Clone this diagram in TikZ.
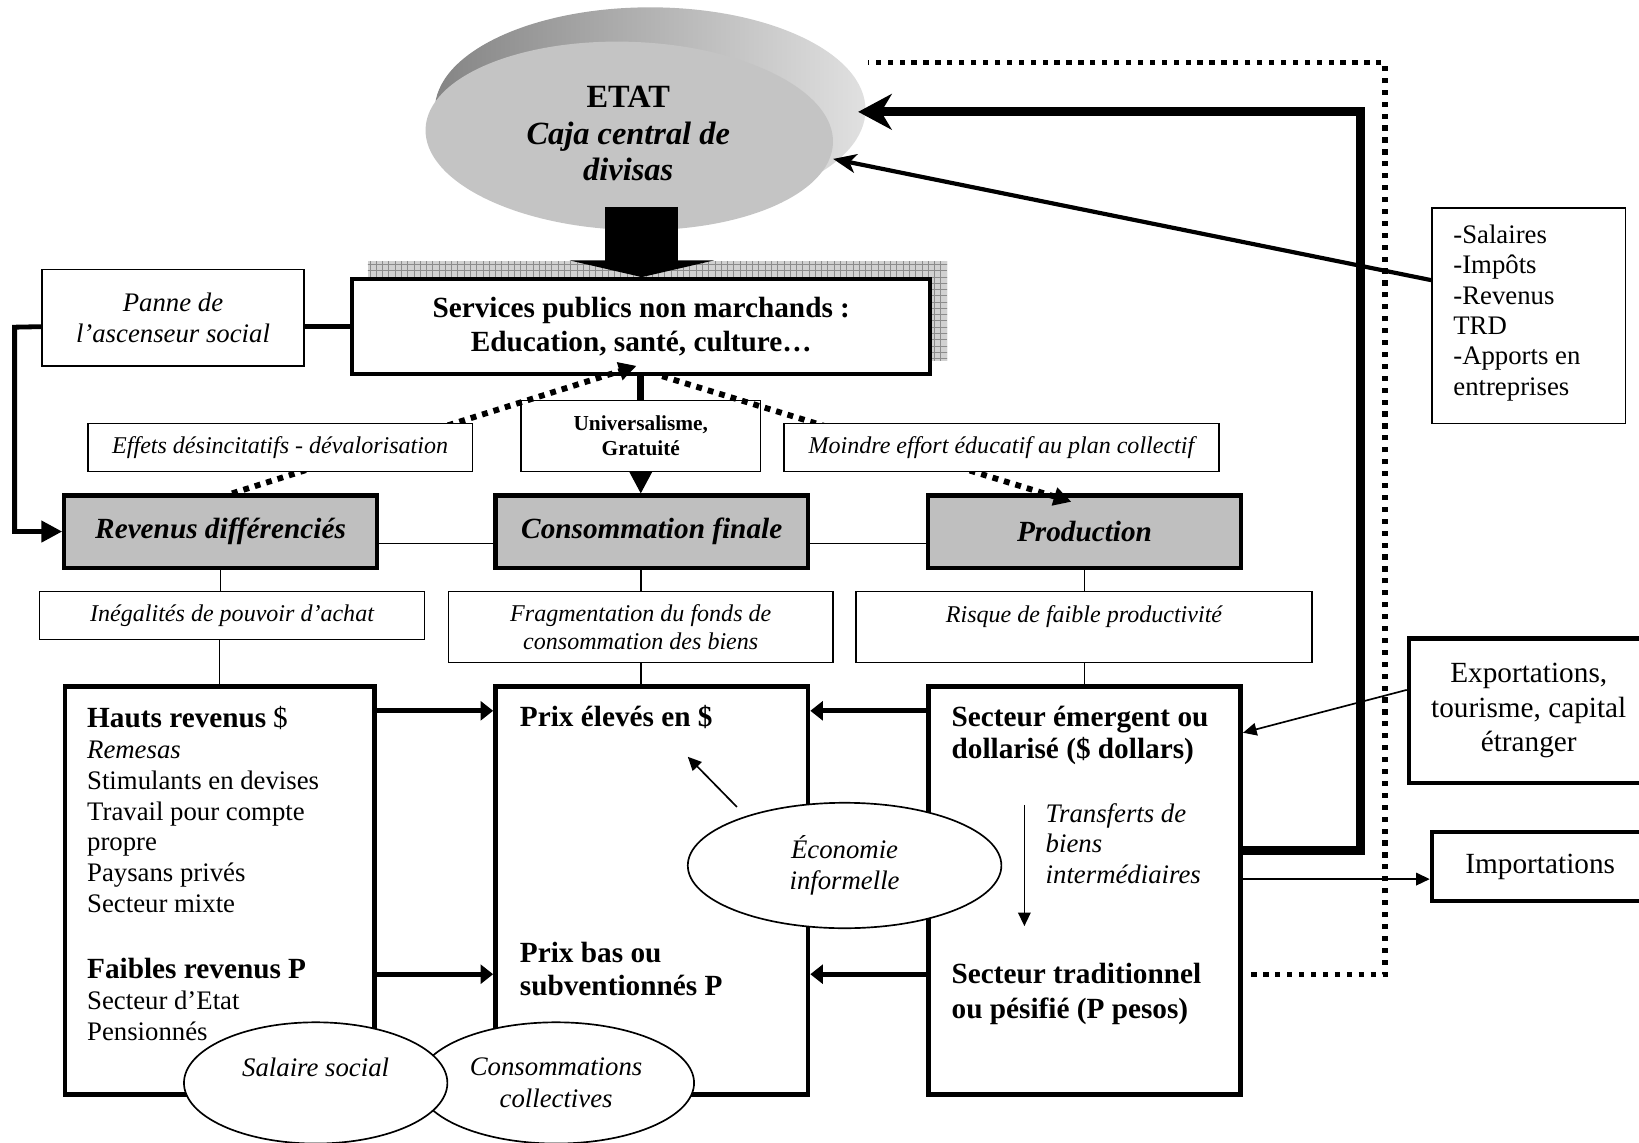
\documentclass[tikz,border=0pt]{standalone}
\usepackage{fontspec}
\setmainfont{Liberation Serif}
\usetikzlibrary{arrows.meta,shapes.geometric,patterns}

\begin{document}
\begin{tikzpicture}[x=0.5pt, y=-0.5pt,
    textbox/.style={draw, line width=0.7pt, fill=white, inner sep=0pt, align=center,
        font=\fontsize{11.5}{13}\selectfont\itshape},
    headbox/.style={draw, line width=2pt, fill=black!25, inner sep=0pt,
        minimum width=149.5pt, minimum height=34.5pt,
        font=\fontsize{14}{16}\selectfont\bfseries\itshape},
    bigbox/.style={draw, line width=2.2pt, inner sep=0pt,
        minimum width=149.5pt, minimum height=195pt},
    oval/.style={ellipse, draw, line width=0.8pt, fill=white, inner sep=0pt, align=center,
        font=\fontsize{12.8}{15}\selectfont\itshape},
    listtext/.style={inner sep=0pt, align=left, anchor=base west,
        font=\fontsize{12.8}{14.75}\selectfont},
    listhead/.style={inner sep=0pt, align=left, anchor=base west,
        font=\fontsize{14}{15.5}\selectfont\bfseries},
    thinline/.style={line width=0.75pt},
    thinarrow/.style={line width=0.8pt, -{Triangle[length=6.5pt, width=6pt]}},
    flow/.style={line width=2.4pt, -{Triangle[length=6pt, width=9pt]}},
    effect/.style={line width=2.8pt, dash pattern=on 2.8pt off 2.9pt,
        -{Triangle[length=8.5pt, width=8.5pt]}},
    heavy/.style={line width=4.3pt, line join=miter,
        -{Stealth[length=16pt, width=17pt, inset=5pt]}}
]
\useasboundingbox (0,0) rectangle (1568,1093);
\clip (0,0) rectangle (1568,1093);

% Etat disk
\shade[left color=black!48, right color=black!12] (622,105) ellipse [x radius=103pt, y radius=49pt];
\fill[black!23, rotate around={-2:(602,130)}] (602,130) ellipse [x radius=97.5pt, y radius=45pt];
\node[align=center, inner sep=0pt, font=\fontsize{15.5}{17.5}\selectfont\bfseries] (etat) at (601,128)
    {ETAT\\{\itshape Caja central de}\\{\itshape divisas}};

% Services publics
\fill[black!18] (352,250) rectangle (906,345);
\fill[pattern=grid, pattern color=black!45] (352,250) rectangle (906,345);
\node[draw, line width=1.9pt, fill=white, minimum width=276.5pt, minimum height=45.5pt,
    inner sep=0pt, align=center, font=\fontsize{14}{16}\selectfont\bfseries] (services) at (613.5,312.5)
    {Services publics non marchands :\\Education, santé, culture…};
\coordinate (arrtop) at (614,198);
\draw[line width=35pt, -{Triangle[length=8pt, width=69pt]}] (arrtop) -- (services.north -| arrtop);

% Panne de l'ascenseur social
\node[textbox, minimum width=125.5pt, minimum height=46pt, font=\fontsize{12.8}{14.5}\selectfont\itshape]
    (panne) at (165.5,304) {Panne de\\l’ascenseur social};
\coordinate (elbow) at (14,313);

% Middle row
\node[textbox, minimum width=114.5pt, minimum height=34pt, font=\fontsize{10.2}{12}\selectfont\bfseries]
    (univ) at (613,417) {Universalisme,\\Gratuité};
\draw[line width=3.2pt] (services.south -| univ.north) -- (univ.north);

\node[headbox] (revenus) at (211,508.5) {Revenus différenciés};
\node[headbox] (conso)   at (623.5,508.5) {Consommation finale};
\node[headbox] (prod)    at (1037.5,508.5) {Production};

\draw[line width=2.3pt] (panne.east |- services.west) -- (services.west);
\draw[line width=2.3pt, line join=miter, -{Triangle[length=10pt, width=10pt]}]
    (panne.west |- services.west) -- (elbow) |- (revenus.west);

% Dotted effects
\coordinate (dotAend) at (609,350);
\coordinate (dotBend) at (1025,480);
\draw[effect] ([xshift=5.5pt]revenus.north) -- (dotAend);
\draw[effect] ([xshift=10pt]services.south) -- (dotBend);

\node[textbox, minimum width=184pt, minimum height=23pt] (effets) at (268,428)
    {Effets désincitatifs - dévalorisation};
\node[textbox, minimum width=208pt, minimum height=23pt] (moindre) at (958,428)
    {Moindre effort éducatif au plan collectif};
\draw[line width=0.8pt, -{Triangle[length=10.5pt, width=11pt]}] (univ.south) -- (univ.south |- conso.north);

% Third row
\node[textbox, minimum width=184pt, minimum height=23pt] (inegal) at (222,589)
    {Inégalités de pouvoir d’achat};
\node[textbox, minimum width=184pt, minimum height=34pt] (frag) at (613,600)
    {Fragmentation du fonds de\\consommation des biens};
\node[textbox, minimum width=218pt, minimum height=34pt] (risque) at (1037,600)
    {Risque de faible productivité\\\mbox{}};

% Big boxes
\node[bigbox, minimum width=148pt] (hauts) at (210,852) {};
\node[bigbox] (prix)    at (623.5,852) {};
\node[bigbox] (secteur) at (1037.5,852) {};

% (base of a multi-line node = its last line)
\node[listtext] (hautstxt) at (83,995)
    {{\fontsize{14}{14.75}\selectfont\bfseries Hauts revenus} {\fontsize{14}{14.75}\selectfont\$}\\
     {\itshape Remesas}\\Stimulants en devises\\Travail pour compte\\propre\\Paysans privés\\Secteur mixte\\[16.75pt]
     {\fontsize{14}{14.75}\selectfont\bfseries Faibles revenus P}\\Secteur d’Etat\\Pensionnés};
\node[listhead] (prixhaut) at (497,695) {Prix élevés en \$};
\node[listhead] (prixbas)  at (497,952) {Prix bas ou\\subventionnés P};
\node[listhead] (emergent) at (910,726) {Secteur émergent ou\\dollarisé (\$ dollars)};
\node[listtext, font=\fontsize{12.8}{14.5}\selectfont\itshape] (transf) at (1000,845)
    {Transferts de\\biens\\intermédiaires};
\node[listhead, font=\fontsize{14}{16.5}\selectfont\bfseries] (tradition) at (910,974)
    {Secteur traditionnel\\ou pésifié (P pesos)};

% Thin links
\draw[thinline] ([yshift=-5.75pt]revenus.east) -- ([yshift=-5.75pt]conso.west);
\draw[thinline] ([yshift=-5.75pt]conso.east) -- ([yshift=-5.75pt]prod.west);
\draw[thinline] (revenus.south) -- (revenus.south |- inegal.north);
\draw[thinline] (inegal.south -| hauts.north) -- (hauts.north);
\draw[thinline] (conso.south -| frag.north) -- (frag.north);
\draw[thinline] (frag.south) -- (frag.south |- prix.north);
\draw[thinline] (prod.south) -- (prod.south |- risque.north);
\draw[thinline] (risque.south -| secteur.north) -- (secteur.north);

% Flows between boxes
\draw[flow] ([yshift=86pt]hauts.east) -- ([yshift=86pt]prix.west);
\draw[flow] ([yshift=-40pt]hauts.east) -- ([yshift=-40pt]prix.west);
\draw[flow] ([yshift=86pt]secteur.west) -- ([yshift=86pt]prix.east);
\draw[flow] ([yshift=-40pt]secteur.west) -- ([yshift=-40pt]prix.east);

% Ovals
\node[oval, minimum width=150pt, minimum height=60pt] (econ) at (808,828) {Économie\\informelle};
\coordinate (ecofrom) at (705,772);
\coordinate (ecoto)   at (658,724);
\draw[thinarrow] (ecofrom) -- (ecoto);
\coordinate (trtop) at (980,770);
\coordinate (trbot) at (980,886);
\draw[thinarrow] (trtop) -- (trbot);

\node[oval, minimum width=132pt, minimum height=58pt] (collect) at (532,1036) {Consommations\\collectives};
\node[oval, minimum width=126pt, minimum height=58pt] (salsoc) at (302,1036) {Salaire social\\\mbox{}};

% Right side
\coordinate (fbcorner) at (1302,107);
\coordinate (etatin)   at (821,107);
\draw[heavy] ([yshift=19pt]secteur.east) -| (fbcorner) -- (etatin);

\coordinate (dotcorner) at (1325,60);
\coordinate (dotend)    at (830,60);
\draw[line width=2.6pt, dash pattern=on 2.5pt off 3.2pt]
    ([xshift=4pt,yshift=-40pt]secteur.east) -| (dotcorner) -- (dotend);

\node[draw, line width=0.8pt, fill=white, minimum width=92.5pt, minimum height=103pt, inner sep=0pt]
    (salaires) at (1462.5,302) {};
\node[listtext, font=\fontsize{12.8}{14.5}\selectfont] (salairestxt) at (1390,378)
    {-Salaires\\-Impôts\\-Revenus\\TRD\\-Apports en\\entreprises};
\coordinate (etatside) at (797,152);
\draw[line width=2pt, -{Stealth[length=11pt, width=9pt, inset=3pt]}] ([yshift=17pt]salaires.west) -- (etatside);

\node[draw, line width=2.2pt, fill=white, minimum width=114.5pt, minimum height=69pt, inner sep=0pt,
    align=center, font=\fontsize{14}{16.5}\selectfont] (export) at (1462.5,680)
    {Exportations,\\tourisme, capital\\étranger};
\node[draw, line width=2.2pt, fill=white, minimum width=103.5pt, minimum height=33pt, inner sep=0pt,
    font=\fontsize{14}{16.5}\selectfont] (import) at (1473.5,829) {Importations};
\draw[thinarrow] ([yshift=10pt]export.west) -- ([yshift=75.5pt]secteur.east);
\coordinate (impin) at ([yshift=-6pt]import.west);
\draw[thinarrow] (secteur.east |- impin) -- (impin);

\end{tikzpicture}
\end{document}
